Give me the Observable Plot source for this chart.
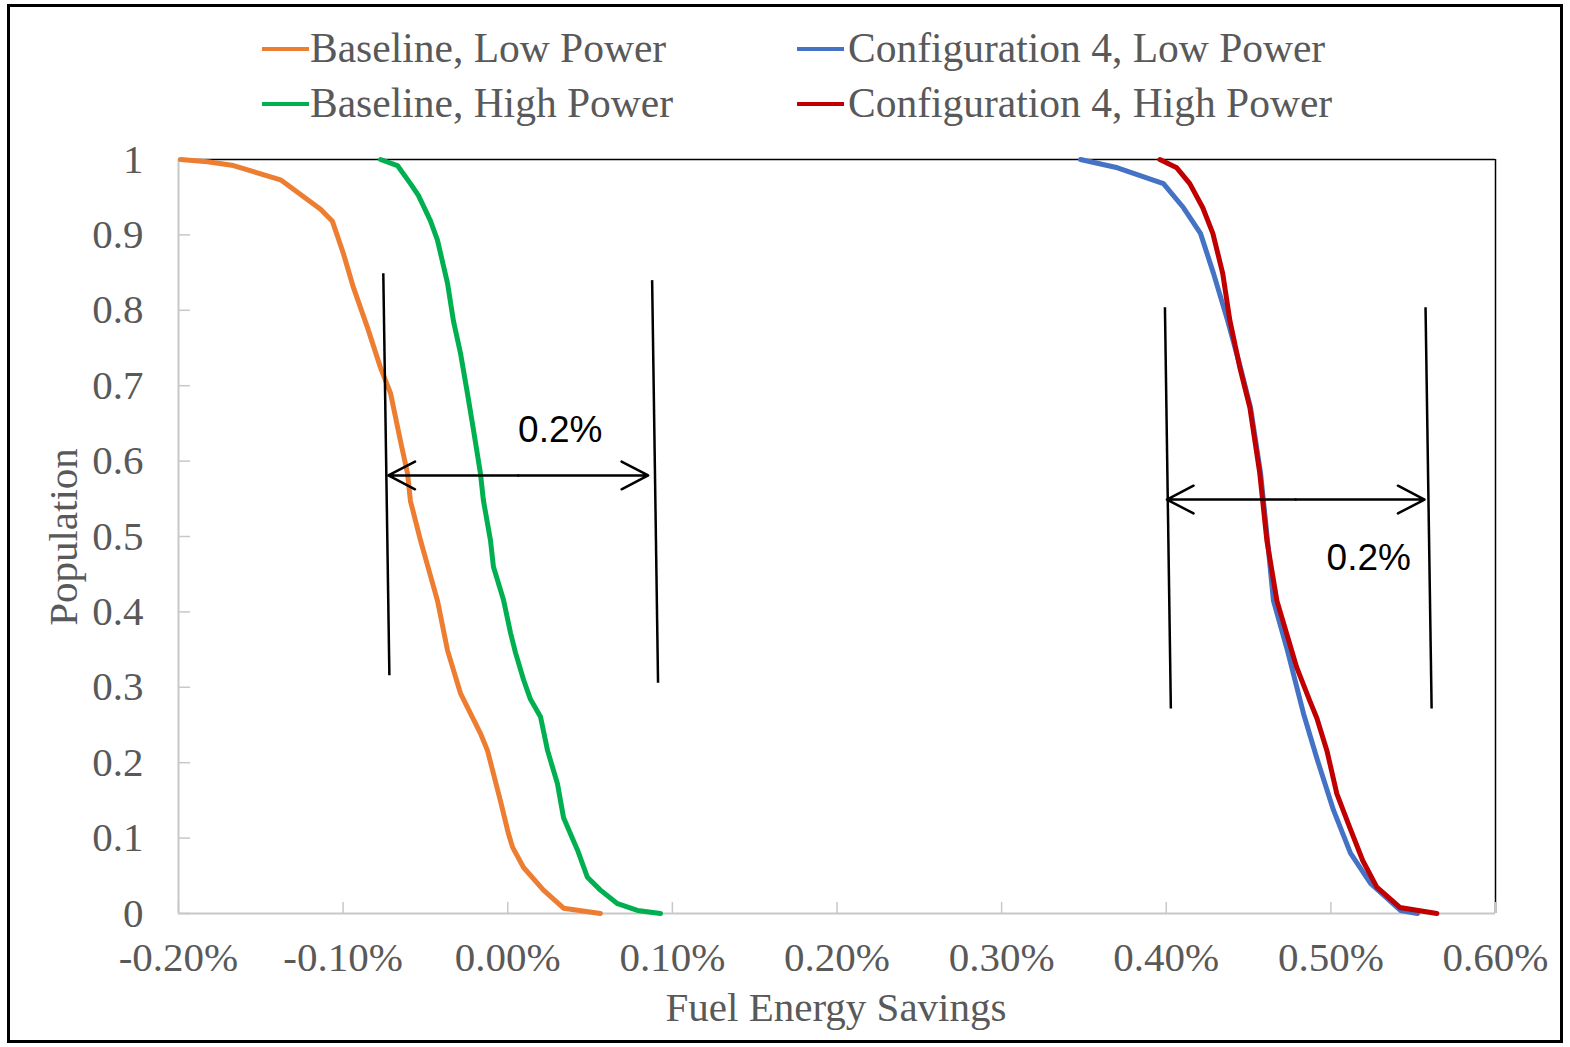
<!DOCTYPE html>
<html>
<head>
<meta charset="utf-8">
<script src="https://cdn.jsdelivr.net/npm/d3@7"></script>
<script src="https://cdn.jsdelivr.net/npm/@observablehq/plot@0.6"></script>
<style>
  html, body { margin: 0; padding: 0; background: #fff; }
  #page { position: relative; width: 1570px; height: 1047px; overflow: hidden; background: #fff; }
  #border { position: absolute; left: 7px; top: 4px; width: 1556px; height: 1039px; border: 3px solid #000; box-sizing: border-box; }
  #chart { position: absolute; left: 0; top: 135px; }
  .serif { font-family: "Liberation Serif", "Times New Roman", serif; color: #595959; font-size: 41.5px; line-height: 40px; white-space: nowrap; }
  .leg { position: absolute; }
  .sw { position: absolute; height: 4px; }
  #xtitle { position: absolute; left: 536px; width: 600px; text-align: center; top: 987px; font-size: 41px; }
  #ytitle { position: absolute; left: -37px; width: 200px; text-align: center; top: 517px; transform: rotate(-90deg); transform-origin: 50% 50%; font-size: 41px; }
</style>
</head>
<body>
<div id="page">
  <div id="border"></div>
  <div id="legend"></div>
  <div id="chart"></div>
  <div id="xtitle" class="serif"></div>
  <div id="ytitle" class="serif"></div>
</div>
<script>
// ---- Data ----
const seriesNames = ["Baseline, Low Power", "Baseline, High Power", "Configuration 4, Low Power", "Configuration 4, High Power"];
const seriesColors = ["#ED7D31", "#00B050", "#4472C4", "#C00000"];

// Fuel energy savings (%) and population fraction
const baselineLowX  = [-0.1988, -0.1824, -0.1666, -0.1380, -0.1137, -0.1065, -0.0998, -0.0937, -0.0852, -0.0773, -0.0712, -0.0652, -0.0609, -0.0591, -0.0530, -0.0512, -0.0427, -0.0366, -0.0287, -0.0166, -0.0123, -0.0044, 0.0004, 0.0029, 0.0096, 0.0217, 0.0339, 0.0563];
const baselineLowY  = [1.000, 0.997, 0.992, 0.973, 0.934, 0.918, 0.875, 0.830, 0.777, 0.724, 0.690, 0.627, 0.584, 0.547, 0.495, 0.481, 0.415, 0.349, 0.292, 0.239, 0.216, 0.149, 0.106, 0.088, 0.061, 0.031, 0.007, 0.000];

const baselineHighX = [-0.0773, -0.0670, -0.0591, -0.0542, -0.0470, -0.0427, -0.0366, -0.0330, -0.0287, -0.0245, -0.0208, -0.0166, -0.0148, -0.0105, -0.0087, -0.0026, 0.0017, 0.0047, 0.0096, 0.0138, 0.0199, 0.0242, 0.0302, 0.0339, 0.0424, 0.0484, 0.0563, 0.0667, 0.0788, 0.0928];
const baselineHighY = [1.000, 0.992, 0.968, 0.952, 0.919, 0.893, 0.836, 0.786, 0.743, 0.690, 0.641, 0.584, 0.548, 0.495, 0.460, 0.416, 0.372, 0.346, 0.310, 0.284, 0.261, 0.216, 0.172, 0.127, 0.084, 0.048, 0.031, 0.013, 0.004, 0.000];

const config4LowX   = [0.3479, 0.3704, 0.3983, 0.4105, 0.4208, 0.4287, 0.4372, 0.4451, 0.4512, 0.4573, 0.4615, 0.4651, 0.4736, 0.4834, 0.4919, 0.5016, 0.5119, 0.5241, 0.5423, 0.5526];
const config4LowY   = [1.000, 0.989, 0.968, 0.936, 0.902, 0.849, 0.787, 0.724, 0.671, 0.584, 0.495, 0.415, 0.349, 0.265, 0.203, 0.137, 0.080, 0.040, 0.004, 0.000];

const config4HighX  = [0.3961, 0.4064, 0.4143, 0.4222, 0.4283, 0.4343, 0.4386, 0.4447, 0.4508, 0.4568, 0.4611, 0.4672, 0.4793, 0.4872, 0.4915, 0.4976, 0.5036, 0.5115, 0.5194, 0.5279, 0.5419, 0.5644];
const config4HighY  = [1.000, 0.989, 0.968, 0.936, 0.902, 0.849, 0.787, 0.724, 0.671, 0.584, 0.495, 0.415, 0.326, 0.282, 0.259, 0.216, 0.159, 0.114, 0.070, 0.035, 0.008, 0.000];

// Axes
const xTicks = [-0.2, -0.1, 0, 0.1, 0.2, 0.3, 0.4, 0.5, 0.6];
const xTickLabels = ["-0.20%", "-0.10%", "0.00%", "0.10%", "0.20%", "0.30%", "0.40%", "0.50%", "0.60%"];
const yTicks = [0, 0.1, 0.2, 0.3, 0.4, 0.5, 0.6, 0.7, 0.8, 0.9, 1];
const yTickLabels = ["0", "0.1", "0.2", "0.3", "0.4", "0.5", "0.6", "0.7", "0.8", "0.9", "1"];
const xTitle = "Fuel Energy Savings";
const yTitle = "Population";

// Annotations (data units): bracket lines, double arrows, labels
const bracketX1 = [-0.0756, 0.0877, 0.3992, 0.5575];
const bracketY1 = [0.849, 0.840, 0.804, 0.804];
const bracketX2 = [-0.0719, 0.0913, 0.4028, 0.5612];
const bracketY2 = [0.316, 0.306, 0.272, 0.272];
const arrowFromX = [-0.0725, 0.4004];
const arrowToX   = [0.0853, 0.5569];
const arrowY     = [0.581, 0.549];
const noteX = [0.0319, 0.5230];
const noteY = [0.6406, 0.4708];
const noteText = ["0.2%", "0.2%"];

// ---- Build tables ----
const seriesX = [baselineLowX, baselineHighX, config4LowX, config4HighX];
const seriesY = [baselineLowY, baselineHighY, config4LowY, config4HighY];
const rows = [];
seriesNames.forEach((name, s) => {
  seriesX[s].forEach((x, i) => rows.push({series: name, x, y: seriesY[s][i]}));
});
const brackets = bracketX1.map((x1, i) => ({x1, y1: bracketY1[i], x2: bracketX2[i], y2: bracketY2[i]}));
const arrowHalves = [];
arrowFromX.forEach((a, i) => {
  const m = (a + arrowToX[i]) / 2;
  arrowHalves.push({x1: m, x2: a, y: arrowY[i]});
  arrowHalves.push({x1: m, x2: arrowToX[i], y: arrowY[i]});
});
const notes = noteX.map((x, i) => ({x, y: noteY[i], text: noteText[i]}));

const plot = Plot.plot({
  width: 1570,
  height: 900,
  marginLeft: 178,
  marginRight: 75,
  marginTop: 24,
  marginBottom: 122,
  style: {fontFamily: "'Liberation Serif', 'Times New Roman', serif", fontSize: "41px", color: "#595959", background: "transparent", overflow: "visible"},
  x: {domain: [-0.2, 0.6]},
  y: {domain: [0, 1]},
  color: {domain: seriesNames, range: seriesColors},
  marks: [
    Plot.ruleY([1], {stroke: "#000", strokeWidth: 1.5}),
    Plot.ruleX([0.6], {stroke: "#000", strokeWidth: 1.5}),
    Plot.ruleY([0], {stroke: "#c8c8c8", strokeWidth: 2}),
    Plot.ruleX([-0.2], {stroke: "#c8c8c8", strokeWidth: 2}),
    Plot.axisX({ticks: xTicks, tickFormat: (d) => xTickLabels[xTicks.indexOf(d)], tickSize: -11, tickPadding: 39, stroke: "#c8c8c8", fill: "#595959", strokeWidth: 1.5, label: null}),
    Plot.axisY({ticks: yTicks, tickFormat: (d) => yTickLabels[yTicks.indexOf(d)], tickSize: -12, tickPadding: 47, stroke: "#c8c8c8", fill: "#595959", strokeWidth: 1.5, label: null}),
    Plot.line(rows, {x: "x", y: "y", z: "series", stroke: "series", strokeWidth: 5, strokeLinejoin: "round", curve: "linear"}),
    Plot.link(brackets, {x1: "x1", y1: "y1", x2: "x2", y2: "y2", stroke: "#000", strokeWidth: 2.5}),
    Plot.arrow(arrowHalves, {x1: "x1", x2: "x2", y1: "y", y2: "y", stroke: "#000", strokeWidth: 2.5, headLength: 18, headAngle: 55}),
    Plot.text(notes, {x: "x", y: "y", text: "text", fill: "#000", fontSize: 37, fontFamily: "'Liberation Sans', Arial, sans-serif"})
  ]
});
document.getElementById("chart").appendChild(plot);

// ---- Legend (HTML) ----
const legend = document.getElementById("legend");
const legPos = [
  {sx: 262, tx: 310, top: 28},
  {sx: 262, tx: 310, top: 83},
  {sx: 797, tx: 848, top: 28},
  {sx: 797, tx: 848, top: 83}
];
seriesNames.forEach((name, i) => {
  const p = legPos[i];
  const sw = document.createElement("div");
  sw.className = "sw";
  sw.style.left = p.sx + "px";
  sw.style.width = "47px";
  sw.style.top = (p.top + 19) + "px";
  sw.style.background = seriesColors[i];
  legend.appendChild(sw);
  const t = document.createElement("div");
  t.className = "leg serif";
  t.style.left = p.tx + "px";
  t.style.top = p.top + "px";
  t.textContent = name;
  legend.appendChild(t);
});
document.getElementById("xtitle").textContent = xTitle;
document.getElementById("ytitle").textContent = yTitle;
</script>
</body>
</html>
